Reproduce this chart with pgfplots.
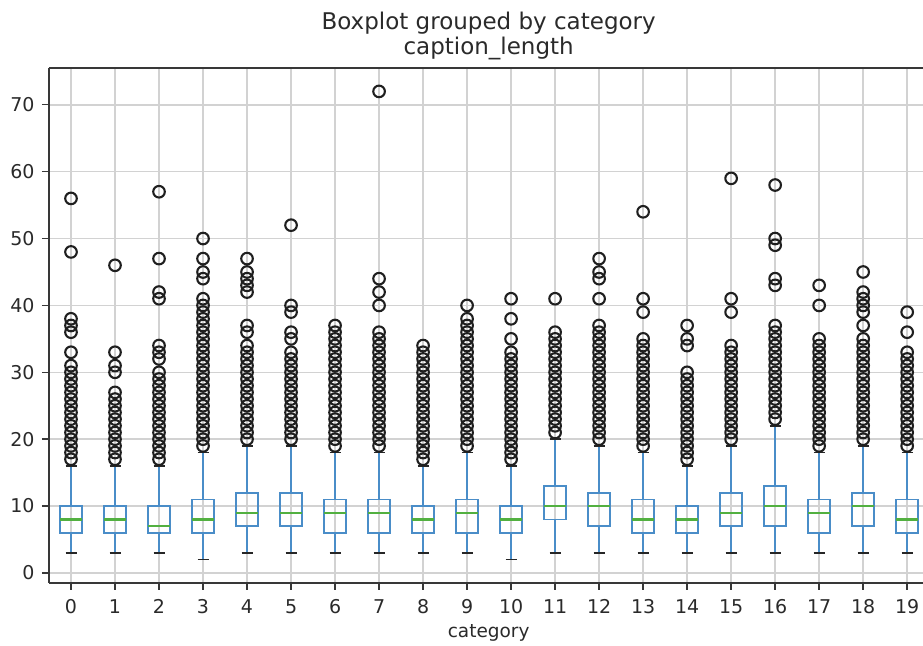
\documentclass[border=0pt]{standalone}
\usepackage{pgfplots}
\pgfplotsset{compat=1.18}
\usepgfplotslibrary{statistics}
\usepackage{fontspec}
\setmainfont{DejaVu Sans}
\definecolor{mplblue}{HTML}{4A8DC8}
\definecolor{mplgreen}{HTML}{52B040}
\definecolor{gridgray}{HTML}{D2D2D2}
\definecolor{txt}{HTML}{2A2A2A}

\pgfplotsset{
  mybox/.style={
    solid, draw=mplblue, line width=1.7pt, fill=none,
    boxplot/draw direction=y,
    boxplot/box extend=0.5,
    boxplot/whisker extend=0.25,
    boxplot/every median/.style={draw=mplgreen, line width=2.3pt},
    boxplot/draw/lower whisker/.code={
      \draw[mplblue, line width=1.7pt] (boxplot cs:\pgfplotsboxplotvalue{lower quartile}) -- (boxplot cs:\pgfplotsboxplotvalue{lower whisker});
      \draw[black!85, line width=1.8pt] (boxplot whisker cs:\pgfplotsboxplotvalue{lower whisker},0) -- (boxplot whisker cs:\pgfplotsboxplotvalue{lower whisker},1);
    },
    boxplot/draw/upper whisker/.code={
      \draw[mplblue, line width=1.7pt] (boxplot cs:\pgfplotsboxplotvalue{upper quartile}) -- (boxplot cs:\pgfplotsboxplotvalue{upper whisker});
      \draw[black!85, line width=1.8pt] (boxplot whisker cs:\pgfplotsboxplotvalue{upper whisker},0) -- (boxplot whisker cs:\pgfplotsboxplotvalue{upper whisker},1);
    },
  }
}

\begin{document}
\begin{tikzpicture}
\begin{axis}[
  scale only axis, width=874pt, height=515pt,
  xmin=-0.5, xmax=19.36, ymin=-1.5, ymax=75.5,
  axis x line=box, axis y line=left,
  axis line style={-, line width=1.6pt, black!78},
  xtick={0,...,19}, ytick={0,10,...,70},
  xtick pos=lower, ytick pos=left,
  tick align=outside,
  major tick length=7pt,
  tick style={black!78, line width=1.4pt},
  grid=major,
  major grid style={gridgray, line width=1.6pt},
  tick label style={font=\fontsize{19}{22}\selectfont, txt},
  xticklabel style={yshift=-6pt},
  yticklabel style={xshift=-4pt},
  /pgf/number format/assume math mode=true,
  title={Boxplot grouped by category\\caption\_length},
  title style={at={(rel axis cs:0.503,1)}, anchor=south, inner sep=0pt, yshift=2pt, align=center, font=\fontsize{23}{25}\selectfont, txt},
  xlabel={category},
  xlabel style={at={(rel axis cs:0.503,0)}, anchor=base, yshift=-55pt, inner sep=0pt, font=\fontsize{18.5}{22}\selectfont, txt},
]
\coordinate (bl) at (rel axis cs:0,0);
\coordinate (tr) at (rel axis cs:1,1);

\addplot[mybox, boxplot prepared={draw position=0, lower whisker=3, lower quartile=6, median=8, upper quartile=10, upper whisker=16}] coordinates {};
\addplot[mybox, boxplot prepared={draw position=1, lower whisker=3, lower quartile=6, median=8, upper quartile=10, upper whisker=16}] coordinates {};
\addplot[mybox, boxplot prepared={draw position=2, lower whisker=3, lower quartile=6, median=7, upper quartile=10, upper whisker=16}] coordinates {};
\addplot[mybox, boxplot prepared={draw position=3, lower whisker=2, lower quartile=6, median=8, upper quartile=11, upper whisker=18}] coordinates {};
\addplot[mybox, boxplot prepared={draw position=4, lower whisker=3, lower quartile=7, median=9, upper quartile=12, upper whisker=19}] coordinates {};
\addplot[mybox, boxplot prepared={draw position=5, lower whisker=3, lower quartile=7, median=9, upper quartile=12, upper whisker=19}] coordinates {};
\addplot[mybox, boxplot prepared={draw position=6, lower whisker=3, lower quartile=6, median=9, upper quartile=11, upper whisker=18}] coordinates {};
\addplot[mybox, boxplot prepared={draw position=7, lower whisker=3, lower quartile=6, median=9, upper quartile=11, upper whisker=18}] coordinates {};
\addplot[mybox, boxplot prepared={draw position=8, lower whisker=3, lower quartile=6, median=8, upper quartile=10, upper whisker=16}] coordinates {};
\addplot[mybox, boxplot prepared={draw position=9, lower whisker=3, lower quartile=6, median=9, upper quartile=11, upper whisker=18}] coordinates {};
\addplot[mybox, boxplot prepared={draw position=10, lower whisker=2, lower quartile=6, median=8, upper quartile=10, upper whisker=16}] coordinates {};
\addplot[mybox, boxplot prepared={draw position=11, lower whisker=3, lower quartile=8, median=10, upper quartile=13, upper whisker=20}] coordinates {};
\addplot[mybox, boxplot prepared={draw position=12, lower whisker=3, lower quartile=7, median=10, upper quartile=12, upper whisker=19}] coordinates {};
\addplot[mybox, boxplot prepared={draw position=13, lower whisker=3, lower quartile=6, median=8, upper quartile=11, upper whisker=18}] coordinates {};
\addplot[mybox, boxplot prepared={draw position=14, lower whisker=3, lower quartile=6, median=8, upper quartile=10, upper whisker=16}] coordinates {};
\addplot[mybox, boxplot prepared={draw position=15, lower whisker=3, lower quartile=7, median=9, upper quartile=12, upper whisker=19}] coordinates {};
\addplot[mybox, boxplot prepared={draw position=16, lower whisker=3, lower quartile=7, median=10, upper quartile=13, upper whisker=22}] coordinates {};
\addplot[mybox, boxplot prepared={draw position=17, lower whisker=3, lower quartile=6, median=9, upper quartile=11, upper whisker=18}] coordinates {};
\addplot[mybox, boxplot prepared={draw position=18, lower whisker=3, lower quartile=7, median=10, upper quartile=12, upper whisker=19}] coordinates {};
\addplot[mybox, boxplot prepared={draw position=19, lower whisker=3, lower quartile=6, median=8, upper quartile=11, upper whisker=18}] coordinates {};

\addplot[only marks, mark=o, mark size=5.8pt, mark options={draw=black!88, line width=2.1pt}] coordinates {
(0,17)(0,18)(0,19)(0,20)(0,21)(0,22)(0,23)(0,24)(0,25)(0,26)(0,27)(0,28)(0,29)(0,30)(0,31)(0,33)(0,36)(0,37)(0,38)(0,48)(0,56)
(1,17)(1,18)(1,19)(1,20)(1,21)(1,22)(1,23)(1,24)(1,25)(1,26)(1,27)(1,30)(1,31)(1,33)(1,46)
(2,17)(2,18)(2,19)(2,20)(2,21)(2,22)(2,23)(2,24)(2,25)(2,26)(2,27)(2,28)(2,29)(2,30)(2,32)(2,33)(2,34)(2,41)(2,42)(2,47)(2,57)
(3,19)(3,20)(3,21)(3,22)(3,23)(3,24)(3,25)(3,26)(3,27)(3,28)(3,29)(3,30)(3,31)(3,32)(3,33)(3,34)(3,35)(3,36)(3,37)(3,38)(3,39)(3,40)(3,41)(3,44)(3,45)(3,47)(3,50)
(4,20)(4,21)(4,22)(4,23)(4,24)(4,25)(4,26)(4,27)(4,28)(4,29)(4,30)(4,31)(4,32)(4,33)(4,34)(4,36)(4,37)(4,42)(4,43)(4,44)(4,45)(4,47)
(5,20)(5,21)(5,22)(5,23)(5,24)(5,25)(5,26)(5,27)(5,28)(5,29)(5,30)(5,31)(5,32)(5,33)(5,35)(5,36)(5,39)(5,40)(5,52)
(6,19)(6,20)(6,21)(6,22)(6,23)(6,24)(6,25)(6,26)(6,27)(6,28)(6,29)(6,30)(6,31)(6,32)(6,33)(6,34)(6,35)(6,36)(6,37)
(7,19)(7,20)(7,21)(7,22)(7,23)(7,24)(7,25)(7,26)(7,27)(7,28)(7,29)(7,30)(7,31)(7,32)(7,33)(7,34)(7,35)(7,36)(7,40)(7,42)(7,44)(7,72)
(8,17)(8,18)(8,19)(8,20)(8,21)(8,22)(8,23)(8,24)(8,25)(8,26)(8,27)(8,28)(8,29)(8,30)(8,31)(8,32)(8,33)(8,34)
(9,19)(9,20)(9,21)(9,22)(9,23)(9,24)(9,25)(9,26)(9,27)(9,28)(9,29)(9,30)(9,31)(9,32)(9,33)(9,34)(9,35)(9,36)(9,37)(9,38)(9,40)
(10,17)(10,18)(10,19)(10,20)(10,21)(10,22)(10,23)(10,24)(10,25)(10,26)(10,27)(10,28)(10,29)(10,30)(10,31)(10,32)(10,33)(10,35)(10,38)(10,41)
(11,21)(11,22)(11,23)(11,24)(11,25)(11,26)(11,27)(11,28)(11,29)(11,30)(11,31)(11,32)(11,33)(11,34)(11,35)(11,36)(11,41)
(12,20)(12,21)(12,22)(12,23)(12,24)(12,25)(12,26)(12,27)(12,28)(12,29)(12,30)(12,31)(12,32)(12,33)(12,34)(12,35)(12,36)(12,37)(12,41)(12,44)(12,45)(12,47)
(13,19)(13,20)(13,21)(13,22)(13,23)(13,24)(13,25)(13,26)(13,27)(13,28)(13,29)(13,30)(13,31)(13,32)(13,33)(13,34)(13,35)(13,39)(13,41)(13,54)
(14,17)(14,18)(14,19)(14,20)(14,21)(14,22)(14,23)(14,24)(14,25)(14,26)(14,27)(14,28)(14,29)(14,30)(14,34)(14,35)(14,37)
(15,20)(15,21)(15,22)(15,23)(15,24)(15,25)(15,26)(15,27)(15,28)(15,29)(15,30)(15,31)(15,32)(15,33)(15,34)(15,39)(15,41)(15,59)
(16,23)(16,24)(16,25)(16,26)(16,27)(16,28)(16,29)(16,30)(16,31)(16,32)(16,33)(16,34)(16,35)(16,36)(16,37)(16,43)(16,44)(16,49)(16,50)(16,58)
(17,19)(17,20)(17,21)(17,22)(17,23)(17,24)(17,25)(17,26)(17,27)(17,28)(17,29)(17,30)(17,31)(17,32)(17,33)(17,34)(17,35)(17,40)(17,43)
(18,20)(18,21)(18,22)(18,23)(18,24)(18,25)(18,26)(18,27)(18,28)(18,29)(18,30)(18,31)(18,32)(18,33)(18,34)(18,35)(18,37)(18,39)(18,40)(18,41)(18,42)(18,45)
(19,19)(19,20)(19,21)(19,22)(19,23)(19,24)(19,25)(19,26)(19,27)(19,28)(19,29)(19,30)(19,31)(19,32)(19,33)(19,36)(19,39)
};
\end{axis}
\pgfresetboundingbox
\path[use as bounding box] ([xshift=-49pt,yshift=-63pt]bl) rectangle ([yshift=68pt]tr);
\end{tikzpicture}
\end{document}
